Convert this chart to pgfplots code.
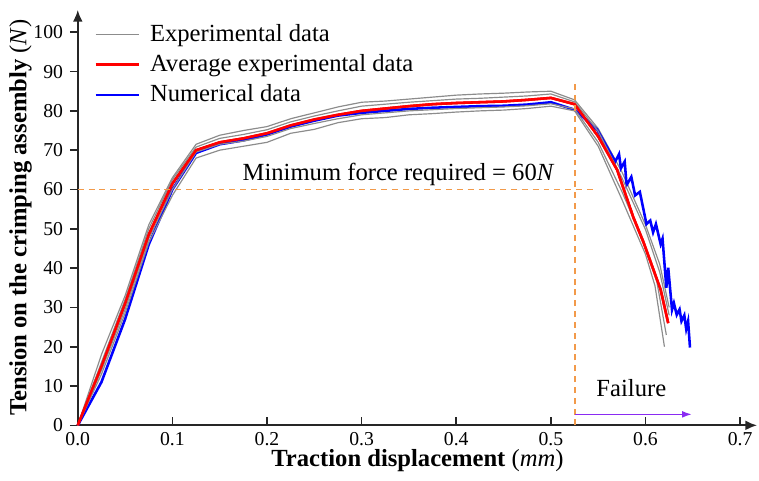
\documentclass[border=0pt]{standalone}
\usepackage{fontspec}
\setmainfont{Liberation Serif}
\usepackage{pgfplots}
\pgfplotsset{compat=1.18}
\usetikzlibrary{arrows.meta}
\definecolor{expgray}{HTML}{8C8C8C}
\definecolor{numblue}{HTML}{0000FF}
\definecolor{guide}{HTML}{F29A4A}
\definecolor{failpurple}{HTML}{8A2BF2}

\begin{document}
\begin{tikzpicture}
\begin{axis}[
    scale only axis,
    width=345pt, height=211pt,
    xmin=0, xmax=0.718, ymin=0, ymax=105.7,
    axis lines=left,
    axis line style={line width=1pt, draw=black!85, -{Latex[length=6pt,width=5pt]}},
    xtick={0,0.1,...,0.7},
    ytick={0,10,...,100},
    x tick label style={/pgf/number format/.cd, fixed, fixed zerofill, precision=1},
    /pgf/number format/assume math mode=true,
    tick label style={font=\rmfamily\fontsize{10}{12}\selectfont},
    x tick style={line width=0.8pt, black!85},
    y tick style={line width=0.8pt, black!85},
    xtick align=inside, ytick align=outside,
    major tick length=4pt,
    xlabel={\textbf{Traction displacement} (\textit{mm})},
    ylabel={\textbf{Tension on the crimping assembly} (\textit{N})},
    label style={font=\fontsize{12.5}{14}\selectfont},
    xlabel style={yshift=5pt},
    ylabel style={yshift=-6pt},
    legend style={draw=none, fill=none, at={(rel axis cs:0.015,0.985)}, anchor=north west,
        yshift=0pt, font=\fontsize{12.5}{15}\selectfont, row sep=1.2pt},
    legend cell align=left,
    legend image code/.code={\draw[#1] (0pt,0pt) -- (22pt,0pt); \path (25pt,0pt);},
    clip=false,
]
% experimental curves (one in legend)
\addplot[expgray, line width=0.6pt] coordinates {
(0,0)(0.025,18)(0.05,33)(0.075,51)(0.1,63)(0.125,71.5)(0.15,73.8)(0.175,75)(0.2,76)(0.225,78)(0.25,79.5)(0.275,81)(0.3,82.2)(0.325,82.5)(0.35,83)(0.375,83.5)(0.4,84)(0.425,84.3)(0.45,84.5)(0.475,84.8)(0.5,85)(0.525,82.8)(0.55,75.5)(0.575,64.5)(0.6,51)(0.615,41)(0.625,30)};
\addlegendentry{Experimental data}
\addplot[red, line width=1.3pt] coordinates {
(0,0)(0.025,15)(0.05,31)(0.075,48.5)(0.1,61.5)(0.125,70)(0.15,72)(0.175,73)(0.2,74.3)(0.225,76.3)(0.25,77.8)(0.275,79)(0.3,80)(0.325,80.6)(0.35,81.2)(0.375,81.7)(0.4,82)(0.425,82.2)(0.45,82.4)(0.475,82.8)(0.5,83.3)(0.525,81.7)(0.55,73.5)(0.57,65)(0.587,53)(0.598,46.5)(0.607,40.5)(0.616,34.5)(0.624,26)};
\addlegendentry{Average experimental data}
\addplot[numblue, line width=1.3pt] coordinates {
(0,0)(0.025,11)(0.05,27)(0.075,46)(0.1,60)(0.125,69.3)(0.15,71.5)(0.175,72.5)(0.2,74)(0.225,76)(0.25,77.5)(0.275,78.8)(0.3,79.5)(0.325,80)(0.35,80.5)(0.375,80.8)(0.4,81)(0.425,81.2)(0.45,81.3)(0.475,81.6)(0.5,82.2)(0.525,80.3)(0.549,75.2)(0.568,67.1)(0.572,69)(0.574,65.4)(0.578,67.1)(0.58,61.1)(0.585,63.2)(0.589,58.5)(0.594,59.4)(0.601,51.2)(0.605,52.1)(0.608,49.1)(0.611,51.2)(0.616,46.1)(0.618,47.5)(0.622,35)(0.624,40.1)(0.628,29.4)(0.630,31.1)(0.633,28.1)(0.636,29.5)(0.638,26.5)(0.641,28)(0.643,24.5)(0.645,26.5)(0.647,19.8)};
\addlegendentry{Numerical data}
\addplot[expgray, line width=0.6pt, forget plot] coordinates {
(0,0)(0.025,16)(0.05,32)(0.075,50)(0.1,62.5)(0.125,70.8)(0.15,73)(0.175,74)(0.2,75.2)(0.225,77.2)(0.25,78.7)(0.275,80)(0.3,81.2)(0.325,81.7)(0.35,82.2)(0.375,82.6)(0.4,83)(0.425,83.2)(0.45,83.5)(0.475,83.8)(0.5,84.3)(0.525,82.3)(0.55,74.8)(0.575,63)(0.6,49.8)(0.615,39)(0.625,28)};
\addplot[expgray, line width=0.6pt, forget plot] coordinates {
(0,0)(0.025,14)(0.05,29.5)(0.075,47.5)(0.1,60)(0.125,69.5)(0.15,71.5)(0.175,72.3)(0.2,73.5)(0.225,75.5)(0.25,76.8)(0.275,78)(0.3,79)(0.325,79.5)(0.35,80)(0.375,80.3)(0.4,80.6)(0.425,80.8)(0.45,81)(0.475,81.3)(0.5,81.8)(0.525,80.5)(0.55,72)(0.575,59.5)(0.6,45.5)(0.612,36.5)(0.622,23)};
\addplot[expgray, line width=0.6pt, forget plot] coordinates {
(0,0)(0.025,13)(0.05,28.5)(0.075,46.5)(0.1,58.5)(0.125,68)(0.15,70)(0.175,71)(0.2,72)(0.225,74.3)(0.25,75.3)(0.275,77)(0.3,78)(0.325,78.3)(0.35,79)(0.375,79.3)(0.4,79.7)(0.425,80)(0.45,80.2)(0.475,80.6)(0.5,81.2)(0.525,80)(0.55,71)(0.575,57.5)(0.6,43.5)(0.61,35.5)(0.62,20)};
% redraw average on top
\addplot[red, line width=1.3pt, forget plot] coordinates {
(0,0)(0.025,15)(0.05,31)(0.075,48.5)(0.1,61.5)(0.125,70)(0.15,72)(0.175,73)(0.2,74.3)(0.225,76.3)(0.25,77.8)(0.275,79)(0.3,80)(0.325,80.6)(0.35,81.2)(0.375,81.7)(0.4,82)(0.425,82.2)(0.45,82.4)(0.475,82.8)(0.5,83.3)(0.525,81.7)(0.55,73.5)(0.57,65)(0.587,53)(0.598,46.5)(0.607,40.5)(0.616,34.5)(0.624,26)};
% guide lines
\addplot[guide, line width=1pt, dash pattern=on 3pt off 2.5pt, forget plot] coordinates {(0,60)(0.549,60)};
\addplot[guide, line width=1pt, dash pattern=on 3pt off 2.5pt, forget plot] coordinates {(0.525,0)(0.525,88)};
\addplot[failpurple, line width=0.8pt, -{Latex[length=5pt,width=3.5pt]}, forget plot] coordinates {(0.525,2.8)(0.649,2.8)};
\node[font=\fontsize{12.5}{14}\selectfont] at (axis cs:0.339,63.8) {Minimum force required = 60\textit{N}};
\node[font=\fontsize{12.5}{14}\selectfont] at (axis cs:0.585,9.6) {Failure};
% page margins
\path (rel axis cs:0,1) ++(0,5pt);
\path (rel axis cs:0,0) ++(-39.5pt,-28pt);
\end{axis}
\end{tikzpicture}
\end{document}
